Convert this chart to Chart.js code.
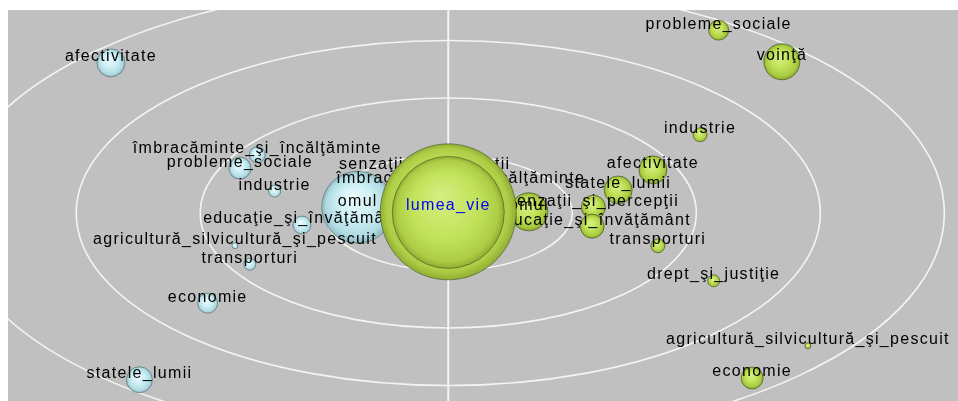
<!DOCTYPE html>
<html>
<head>
<meta charset="utf-8">
<script src="https://cdn.jsdelivr.net/npm/chart.js@4/dist/chart.umd.min.js"></script>
<style>
  html, body { margin: 0; padding: 0; background: #ffffff; }
  #wrap { position: absolute; left: 8px; top: 10px; width: 950px; height: 391px; background: #c0c0c0; }
  canvas { display: block; }
</style>
</head>
<body>
<div id="wrap"><canvas id="c" width="950" height="391"></canvas></div>
<script>
// ---- data (map units: one ring = 1 unit on each axis) ----
const rings = [1, 2, 3, 4];

const blueNames = ['afectivitate', 'îmbracăminte_şi_încălţăminte', 'probleme_sociale', 'industrie',
  'senzaţii_şi_percepţii', 'omul', 'educaţie_şi_învăţământ', 'agricultură_silvicultură_şi_pescuit',
  'transporturi', 'economie', 'statele_lumii'];
const blueX = [-2.72, -1.54, -1.68, -1.40, -0.19, -0.73, -1.18, -1.72, -1.60, -1.94, -2.49];
const blueY = [2.61, 1.01, 0.78, 0.38, 0.73, 0.10, -0.21, -0.57, -0.89, -1.57, -2.90];
const blueSize = [14, 8, 11, 6, 10, 36, 9, 3, 6, 10, 13];

const greenNames = ['probleme_sociale', 'voinţă', 'industrie', 'afectivitate', 'statele_lumii',
  'senzaţii_şi_percepţii', 'educaţie_şi_învăţământ', 'îmbracăminte_şi_încălţăminte', 'omul',
  'transporturi', 'drept_şi_justiţie', 'agricultură_silvicultură_şi_pescuit', 'economie'];
const greenX = [2.18, 2.69, 2.03, 1.65, 1.37, 1.17, 1.16, 0.10, 0.65, 1.69, 2.14, 2.90, 2.45];
const greenY = [3.18, 2.63, 1.36, 0.75, 0.40, 0.10, -0.23, 0.50, 0.02, -0.57, -1.18, -2.31, -2.87];
const greenSize = [10, 18, 7, 14, 14, 12, 12, 10, 19, 7, 6, 3, 11];

const coreNames = ['lumea_vie', ''];
const coreX = [0.00, 0.00];
const coreY = [0.02, 0.01];
const coreSize = [68, 56];

const xRange = [-3.55, 4.11];
const yRange = [-3.27, 3.53];

// ---- helpers ----
function pts(xs, ys, rs) { return xs.map((x, i) => ({ x: x, y: ys[i], r: rs[i] })); }

function sphereFill(stops, fallback) {
  return function (ctx) {
    const ch = ctx.chart;
    if (!ch.chartArea || !ctx.raw) return fallback;
    const x = ch.scales.x.getPixelForValue(ctx.raw.x);
    const y = ch.scales.y.getPixelForValue(ctx.raw.y);
    const r = Math.max(ctx.raw.r, 1);
    const g = ch.ctx.createRadialGradient(x - r * 0.15, y - r * 0.3, 0, x, y, r);
    stops.forEach(s => g.addColorStop(s[0], s[1]));
    return g;
  };
}

const blueStops = [[0, '#eefdff'], [0.5, '#cdeff4'], [0.85, '#b0dbe2'], [1, '#8fb8c0']];
const greenStops = [[0, '#d8f08a'], [0.5, '#c2e25a'], [0.85, '#a9cb40'], [1, '#8aa82e']];
const coreStops = [[0, '#d6ef84'], [0.6, '#c2e25a'], [0.9, '#aecd46'], [1, '#90ad34']];

const LABEL_FONT = '16px "Liberation Sans", Arial, sans-serif';

const backdrop = {
  id: 'backdrop',
  beforeDatasetsDraw(chart) {
    const c = chart.ctx, sx = chart.scales.x, sy = chart.scales.y;
    const cx = sx.getPixelForValue(0), cy = sy.getPixelForValue(0);
    c.save();
    c.strokeStyle = '#f4f4f4';
    c.lineWidth = 2;
    c.beginPath();
    c.moveTo(cx, chart.chartArea.top);
    c.lineTo(cx, chart.chartArea.bottom);
    c.stroke();
    c.lineWidth = 1.6;
    rings.forEach(k => {
      const rx = Math.abs(sx.getPixelForValue(k) - cx);
      const ry = Math.abs(sy.getPixelForValue(k) - cy);
      c.beginPath();
      c.ellipse(cx, cy, rx, ry, 0, 0, Math.PI * 2);
      c.stroke();
    });
    c.restore();
  },
  afterDatasetDraw(chart, args) {
    const ds = chart.data.datasets[args.index];
    if (!ds.names || ds.labelsOnTop) return;
    drawLabels(chart, args.meta, ds, '#000000');
  },
  afterDatasetsDraw(chart) {
    chart.data.datasets.forEach((ds, i) => {
      if (ds.labelsOnTop) drawLabels(chart, chart.getDatasetMeta(i), ds, '#0000ff');
    });
  }
};

function drawLabels(chart, meta, ds, color) {
  const c = chart.ctx;
  c.save();
  c.font = LABEL_FONT;
  try { c.letterSpacing = '1.3px'; } catch (e) {}
  c.fillStyle = color;
  c.textAlign = 'center';
  c.textBaseline = 'middle';
  meta.data.forEach((el, i) => {
    const t = ds.names[i];
    if (t) c.fillText(t, el.x, el.y - 6);
  });
  c.restore();
}

new Chart(document.getElementById('c'), {
  type: 'bubble',
  data: {
    datasets: [
      {
        label: 'grup 1',
        names: blueNames,
        data: pts(blueX, blueY, blueSize),
        backgroundColor: sphereFill(blueStops, '#c6ecf2'),
        borderColor: 'rgba(70,95,100,0.55)',
        borderWidth: 1,
        order: 2
      },
      {
        label: 'grup 2',
        names: greenNames,
        data: pts(greenX, greenY, greenSize),
        backgroundColor: sphereFill(greenStops, '#c2e25a'),
        borderColor: 'rgba(60,75,25,0.6)',
        borderWidth: 1,
        order: 1
      },
      {
        label: 'nucleu',
        names: coreNames,
        labelsOnTop: true,
        data: pts(coreX, coreY, coreSize),
        backgroundColor: sphereFill(coreStops, '#c2e25a'),
        borderColor: 'rgba(60,75,25,0.55)',
        borderWidth: 1,
        order: 0
      }
    ]
  },
  options: {
    responsive: false,
    animation: false,
    events: [],
    layout: { padding: 0, autoPadding: false },
    plugins: { legend: { display: false }, tooltip: { enabled: false } },
    scales: {
      x: { type: 'linear', display: false, min: xRange[0], max: xRange[1] },
      y: { type: 'linear', display: false, min: yRange[0], max: yRange[1] }
    }
  },
  plugins: [backdrop]
});
</script>
</body>
</html>
